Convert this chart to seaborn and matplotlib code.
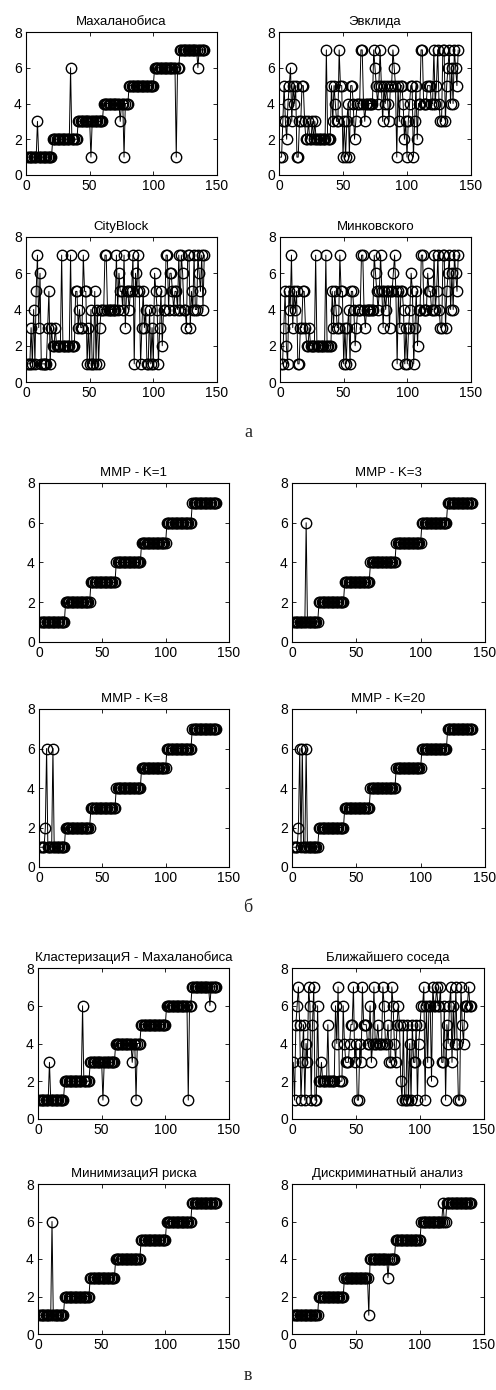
import matplotlib
matplotlib.use("Agg")
import matplotlib.pyplot as plt
import pandas as pd
import seaborn as sns

# Class assigned to each of the 140 samples (7 classes x 20 samples), one string per method,
# written in groups of 20 samples.
sample_no = list(range(1, 141))

mahalanobis = ("11111111311111111111 22222222222222622222 33333333331333333333 "
               "44444444444443441444 55555555555555555555 66666666666666666166 "
               "77777777777777677777")
euclid = ("11353245635451133553 22322323222222227222 53543375513134155423 "
          "44477434444447654575 35454355765153554231 34551352447744455544 "
          "74574337735674647657")
cityblock = ("11131415736111113513 22322227222222722255 34337551314115141344 "
             "47744444447465547355 45571657513534114131 65413524477466545547 "
             "47644377354744765747")
minkowski = ("11352154735451133553 22322227222222272222 53543375513134155423 "
             "44477434444447654575 35455355675153554131 34651352447744465544 "
             "74574337735674647657")

mmr_k1 = ("11111111111111111111 22222222222222222222 33333333333333333333 "
          "44444444444444444444 55555555555555555555 66666666666666666666 "
          "77777777777777777777")
mmr_k3 = ("11111111116111111111 22222222222222222222 33333333333333333333 "
          "44444444444444444444 55555555555555555555 66666666666666666666 "
          "77777777777777777777")
mmr_k8 = ("11112611116111111111 22222222222222222222 33333333333333333333 "
          "44444444444444444444 55555555555555555555 66666666666666666666 "
          "77777777777777777777")
mmr_k20 = ("11112616116111111111 22222222222222222222 33333333333333333333 "
           "44444444444444444444 55555555555555555555 66666666666666666666 "
           "77777777777777777777")

clustering = ("11111111311111111111 22222222222222622222 33333333331333333333 "
              "44444444444443441444 55555555555555555555 66666666666666666166 "
              "77777777777777677777")
nearest = ("31567513514376157116 22322225222226472226 43334557341143755544 "
           "63474454447644533764 35652151151415335145 66716366276676673361 "
           "54673647411754666766")
min_risk = ("11111111116111111111 22222222222222222222 33333333333333333333 "
            "44444444444444444444 55555555555555555555 66666666666666666666 "
            "77777777777777777777")
discriminant = ("11111111111111111111 22222222222222222222 33333333333333333331 "
                "44444444444444344444 55555555555555555555 66666666666666666766 "
                "77777777777777777777")

titles = ["Махаланобиса", "Эвклида", "CityBlock", "Минковского",
          "ММР - K=1", "ММР - K=3", "ММР - K=8", "ММР - K=20",
          "КластеризациЯ - Махаланобиса", "Ближайшего соседа",
          "МинимизациЯ риска", "Дискриминатный анализ"]
series = [mahalanobis, euclid, cityblock, minkowski,
          mmr_k1, mmr_k3, mmr_k8, mmr_k20,
          clustering, nearest, min_risk, discriminant]
group_labels = ["а", "б", "в"]

x_ticks = [0, 50, 100, 150]
y_ticks = [0, 2, 4, 6, 8]

# Axes boxes in pixels: left, top, right, bottom
boxes = [(26, 32, 217, 175), (279, 32, 471, 175),
         (26, 237, 217, 382), (280, 237, 471, 382),
         (39, 483, 229, 642), (292, 483, 485, 642),
         (39, 709, 229, 867), (292, 709, 485, 867),
         (38, 968, 229, 1119), (292, 968, 484, 1119),
         (38, 1184, 229, 1334), (292, 1184, 484, 1334)]
label_pos = [(248, 433), (248, 908), (248, 1376)]

W, H = 496, 1390
sns.set_theme(style="ticks")
plt.rcParams.update({
    "font.family": ["Liberation Sans", "DejaVu Sans"],
    "xtick.direction": "in", "ytick.direction": "in",
    "xtick.top": True, "ytick.right": True,
    "xtick.major.size": 3, "ytick.major.size": 3,
    "xtick.major.width": 0.6, "ytick.major.width": 0.6,
    "xtick.major.pad": 3, "ytick.major.pad": 3,
    "axes.linewidth": 0.8, "axes.edgecolor": "black",
    "xtick.color": "black", "ytick.color": "black",
})

fig = plt.figure(figsize=(W / 100, H / 100), dpi=100)
fig.patch.set_facecolor("white")


def parse(codes):
    return [int(c) for c in codes.replace(" ", "")]


for title, codes, (l, t, r, b) in zip(titles, series, boxes):
    ax = fig.add_axes([l / W, 1 - b / H, (r - l) / W, (b - t) / H])
    df = pd.DataFrame({"sample": sample_no, "cls": parse(codes)})
    sns.lineplot(data=df, x="sample", y="cls", ax=ax, estimator=None,
                 errorbar=None, sort=False, color="black", linewidth=0.7,
                 marker="o", markersize=7.5, markerfacecolor="none",
                 markeredgecolor="black", markeredgewidth=1.0)
    ax.set_xlim(0, 150)
    ax.set_ylim(0, 8)
    ax.set_xticks(x_ticks)
    ax.set_yticks(y_ticks)
    ax.tick_params(labelsize=10, labelcolor="black")
    ax.set_xlabel("")
    ax.set_ylabel("")
    ax.set_title(title, fontsize=9.5, pad=5, color="black")
    for s in ax.spines.values():
        s.set_visible(True)
        s.set_color("black")

for text, (x, y) in zip(group_labels, label_pos):
    fig.text(x / W, 1 - y / H, text, ha="center", va="center",
             fontsize=13, family=["Liberation Serif", "DejaVu Serif"])

fig.savefig("out.png", dpi=100, facecolor="white")
